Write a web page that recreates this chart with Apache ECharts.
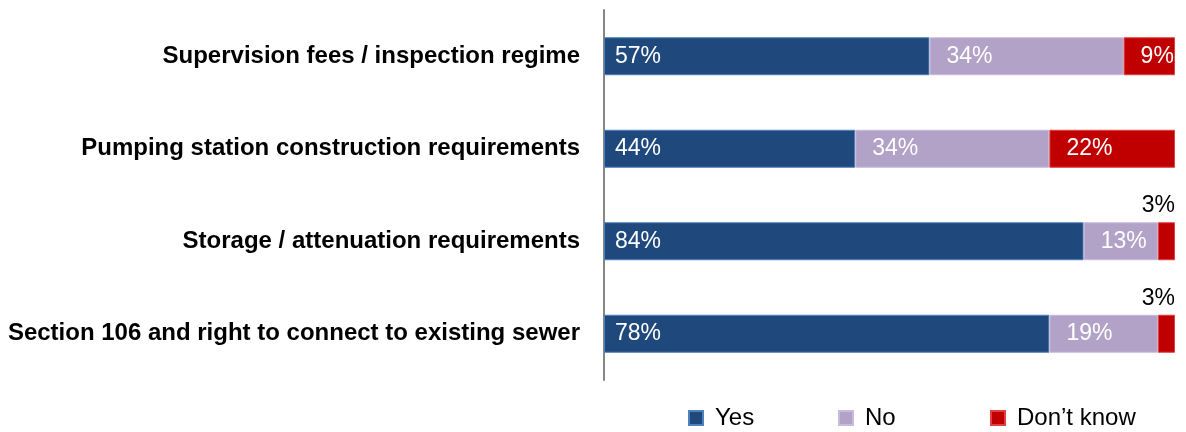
<!DOCTYPE html>
<html><head><meta charset="utf-8">
<script src="https://cdn.jsdelivr.net/npm/echarts@6/dist/echarts.min.js"></script>
<style>html,body{margin:0;padding:0;background:#fff}#c{width:1186px;height:432px}</style>
</head><body><div id="c"></div>
<script>
const categories = ["Supervision fees / inspection regime","Pumping station construction requirements","Storage / attenuation requirements","Section 106 and right to connect to existing sewer"];
const yes = [57,44,84,78];
const no = [34,34,13,19];
const dontKnow = [9,22,3,3];
const seriesNames = ["Yes","No","Don\u2019t know"];

const chart = echarts.init(document.getElementById('c'));
const font = 'Liberation Sans, Arial, sans-serif';
function lbl(d){return {show:true,position:'insideLeft',distance:d,color:'#fff',fontSize:23,fontFamily:font,formatter:p=>p.value+'%'};}
const legendLefts = [683,833,985];
chart.setOption({
  animation:false,
  grid:{left:604,right:11,top:10,bottom:52},
  xAxis:{type:'value',min:0,max:100,show:false},
  yAxis:{type:'category',data:categories,inverse:true,
    axisLine:{show:true,lineStyle:{color:'#868686',width:2}},
    axisTick:{show:false},
    axisLabel:{margin:24,color:'#000',fontSize:24,fontWeight:'bold',fontFamily:font}},
  legend:seriesNames.map((n,i)=>({left:legendLefts[i],top:401,itemWidth:14,itemHeight:14,icon:'rect',
    data:[n],textStyle:{fontSize:24,fontFamily:font,color:'#000',padding:[0,0,0,7]}})),
  series:[
    {name:seriesNames[0],type:'bar',stack:'a',barWidth:38,data:yes,
     itemStyle:{color:'#1F497D',borderColor:'#4F81BD',borderWidth:1},label:lbl(11)},
    {name:seriesNames[1],type:'bar',stack:'a',barWidth:38,data:no,
     itemStyle:{color:'#B3A2C7',borderColor:'#C9BCDA',borderWidth:1},label:lbl(17)},
    {name:seriesNames[2],type:'bar',stack:'a',barWidth:38,
     data:dontKnow.map(v=>v<5?{value:v,label:{position:'top',distance:5,offset:[-8,0],color:'#000',fontSize:23}}:v),
     itemStyle:{color:'#C00000',borderColor:'#E04040',borderWidth:1},label:lbl(17)}
  ]
});
</script></body></html>
